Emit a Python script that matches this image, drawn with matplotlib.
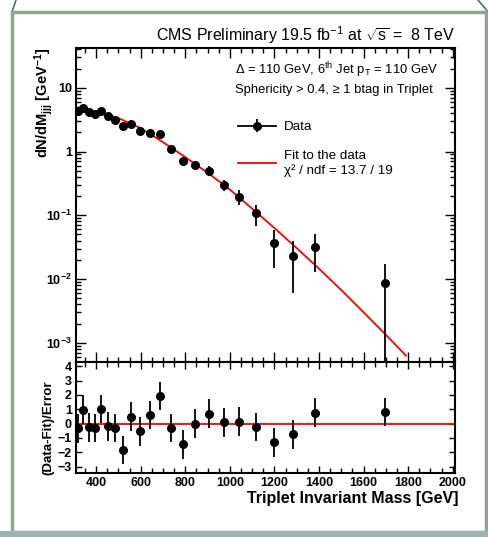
import numpy as np
import matplotlib.pyplot as plt
from matplotlib.patches import Rectangle
from matplotlib.lines import Line2D
from matplotlib.ticker import FixedLocator, FixedFormatter, MultipleLocator, LogLocator, NullFormatter

plt.rcParams['font.family'] = ['Liberation Sans', 'DejaVu Sans']
plt.rcParams['mathtext.fontset'] = 'custom'
plt.rcParams['mathtext.rm'] = 'Liberation Sans'
plt.rcParams['mathtext.bf'] = 'Liberation Sans:bold'
plt.rcParams['mathtext.it'] = 'Liberation Sans:italic'

# ---- data ----
mass = [320, 343, 369, 397, 422, 453, 485, 520, 557, 598, 640, 688,
        737, 788, 846, 908, 974, 1043, 1118, 1199, 1285, 1380, 1698]
dndm = [4.3, 4.85, 4.15, 3.9, 4.3, 3.55, 3.14, 2.47, 2.72, 2.06, 1.94, 1.87,
        1.09, 0.70, 0.625, 0.50, 0.30, 0.196, 0.108, 0.037, 0.023, 0.032, 0.0086]
dndm_err = [0.45, 0.5, 0.45, 0.42, 0.45, 0.38, 0.34, 0.3, 0.3, 0.24, 0.22, 0.2,
            0.14, 0.1, 0.09, 0.085, 0.06, 0.053, 0.039, 0.022, 0.017, 0.019, 0.0086]
pull = [-0.34, 0.97, -0.26, -0.3, 1.03, -0.19, -0.3, -1.84, 0.48, -0.55, 0.6, 1.93,
        -0.3, -1.45, 0.0, 0.69, 0.09, 0.14, -0.23, -1.31, -0.74, 0.76, 0.80]
pull_err = [1.0] * len(pull)

fit_mass = [320, 400, 450, 500, 600, 700, 800, 900, 1000, 1100, 1200, 1300, 1400,
            1500, 1600, 1700, 1790]
fit_val = [4.4, 4.15, 3.8, 3.34, 2.32, 1.40, 0.815, 0.465, 0.253, 0.127, 0.063, 0.0305,
           0.0145, 0.0067, 0.0030, 0.00133, 0.00063]

ytick_vals = [1e-3, 1e-2, 1e-1, 1, 10]
ytick_labels = [r'10$^{\mathbf{-3}}$', r'10$^{\mathbf{-2}}$', r'10$^{\mathbf{-1}}$', '1', '10']

W, H = 489, 537
fig = plt.figure(figsize=(W / 100, H / 100), dpi=100)

# slide-like frame around the plot
fig.patches.append(Rectangle((12 / W, 5 / H), 474 / W, 520 / H, transform=fig.transFigure,
                             facecolor='white', edgecolor='#8fa68f', lw=2.5, zorder=-10))
fig.patches.append(Rectangle((0, 0), 1, 6 / H, transform=fig.transFigure,
                             facecolor='#9db3b3', edgecolor='none', zorder=-10))
fig.lines.append(Line2D([12 / W, 16 / W], [1 - 12 / H, 1], transform=fig.transFigure,
                        color='#55648f', lw=1.2, zorder=-10))
fig.lines.append(Line2D([478 / W, 1], [1, 1 - 13 / H], transform=fig.transFigure,
                        color='#55648f', lw=1.2, zorder=-10))

ax = fig.add_axes([76 / W, 1 - 362 / H, 379 / W, 314 / H])
axr = fig.add_axes([76 / W, 1 - 473 / H, 379 / W, 111 / H], sharex=ax)

# ---- upper panel ----
lower_err = [min(e, v * 0.999) for v, e in zip(dndm, dndm_err)]
fitline, = ax.plot(fit_mass, fit_val, color='red', lw=1.3, zorder=2)
data = ax.errorbar(mass, dndm, yerr=[lower_err, dndm_err], fmt='o', color='black',
                   ms=5.5, elinewidth=1.3, capsize=0, zorder=3)
ax.set_yscale('log')
ax.set_xlim(310, 2010)
ax.set_ylim(5e-4, 42)
ax.yaxis.set_major_locator(FixedLocator(ytick_vals))
ax.yaxis.set_major_formatter(FixedFormatter(ytick_labels))
ax.yaxis.set_minor_locator(LogLocator(base=10, subs=np.arange(2, 10)))
ax.yaxis.set_minor_formatter(NullFormatter())
ax.xaxis.set_major_locator(MultipleLocator(200))
ax.xaxis.set_minor_locator(MultipleLocator(50))
ax.tick_params(axis='x', labelbottom=False)
ax.set_ylabel(r'dN/dM$_{\mathbf{jjj}}$ [GeV$^{\mathbf{-1}}$]', fontsize=10.5,
              fontweight='bold', loc='top')
ax.yaxis.set_label_coords(-0.055, 1.0)

ax.text(1.0, 1.006, r'CMS Preliminary 19.5 fb$^{-1}$ at $\sqrt{\mathrm{s}}$ =  8 TeV',
        transform=ax.transAxes, ha='right', va='bottom', fontsize=11.5)
ax.text(0.42, 0.93, r'$\Delta$ = 110 GeV, 6$^{\mathrm{th}}$ Jet p$_{\mathrm{T}}$ = 110 GeV',
        transform=ax.transAxes, ha='left', va='center', fontsize=9.4)
ax.text(0.42, 0.865, 'Sphericity > 0.4, ≥ 1 btag in Triplet',
        transform=ax.transAxes, ha='left', va='center', fontsize=9.4)

data_handle = (Line2D([], [], color='black', lw=1.3), data)
ax.legend([data_handle, fitline], ['Data', 'Fit to the data\nχ² / ndf = 13.7 / 19'],
          loc='upper left', bbox_to_anchor=(0.413, 0.785), frameon=False,
          fontsize=9.6, handlelength=2.85, handletextpad=0.6, labelspacing=1.25,
          borderaxespad=0)

# ---- lower panel ----
axr.axhline(0, color='red', lw=1.3, zorder=2)
axr.errorbar(mass, pull, yerr=pull_err, fmt='o', color='black', ms=5.5,
             elinewidth=1.3, capsize=0, zorder=3)
axr.set_ylim(-3.45, 4.3)
axr.yaxis.set_major_locator(MultipleLocator(1))
axr.set_xlabel('Triplet Invariant Mass [GeV]', fontsize=11.5, fontweight='bold',
               loc='right', labelpad=2)
axr.xaxis.set_label_coords(1.008, -0.165)
axr.xaxis.label.set_va('top')
axr.set_ylabel('(Data-Fit)/Error', fontsize=9.6, fontweight='bold')
axr.yaxis.set_label_coords(-0.057, 0.405)

for a in (ax, axr):
    for s in a.spines.values():
        s.set_linewidth(1.5)
    a.tick_params(which='both', direction='in', top=True, right=True, width=1.0)
    a.tick_params(which='major', length=7, labelsize=9, pad=3)
    a.tick_params(which='minor', length=3.5)
    for lab in a.get_xticklabels() + a.get_yticklabels():
        lab.set_fontweight('bold')
axr.tick_params(which='major', length=5)
axr.tick_params(axis='y', which='major', length=4)

fig.savefig('out.png', dpi=100)
